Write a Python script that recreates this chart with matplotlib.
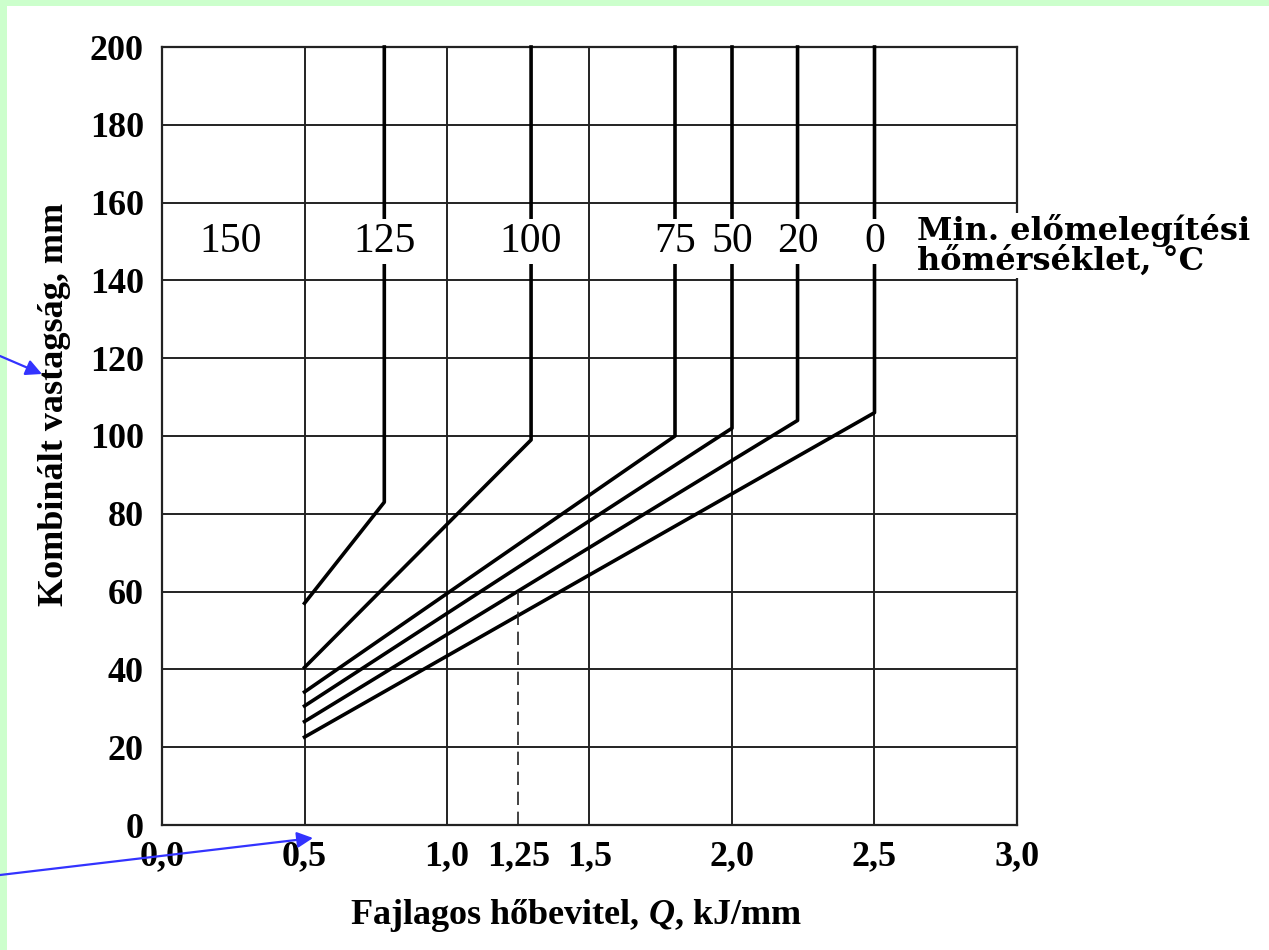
import matplotlib
matplotlib.use('Agg')
import matplotlib.pyplot as plt
from matplotlib.patches import Rectangle, FancyArrowPatch

plt.rcParams['font.family'] = 'Liberation Serif'
plt.rcParams['mathtext.fontset'] = 'custom'
plt.rcParams['mathtext.it'] = 'Liberation Serif:italic:bold'
plt.rcParams['mathtext.rm'] = 'Liberation Serif:bold'

# preheat temperature curves
temps = ['125', '100', '75', '50', '20', '0']
q_start = [0.5, 0.5, 0.5, 0.5, 0.5, 0.5]
t_start = [57, 40.5, 34.2, 30.6, 26.6, 22.6]
q_knee = [0.78, 1.295, 1.80, 2.0, 2.23, 2.5]
t_knee = [83, 99, 100, 102, 104, 106]
t_top = 200

label_texts = ['150', '125', '100', '75', '50', '20', '0']
label_q = [0.24, 0.78, 1.295, 1.80, 2.0, 2.23, 2.5]
label_t = 150

x_major = [0.0, 0.5, 1.0, 1.5, 2.0, 2.5, 3.0]
x_major_lbl = ['0,0', '0,5', '1,0', '1,5', '2,0', '2,5', '3,0']
x_minor = [1.25]
x_minor_lbl = ['1,25']
y_ticks = list(range(0, 201, 20))

dash_q = 1.25
dash_t = 60

W, H = 1269, 950
fig = plt.figure(figsize=(W / 100, H / 100), dpi=100, facecolor='#ccffcc')
fig.add_artist(Rectangle((7 / W, 0), 1, 1 - 6 / H, transform=fig.transFigure,
                         facecolor='white', edgecolor='none', zorder=-10))

ax = fig.add_axes([162 / W, 1 - 825 / H, (1017 - 162) / W, (825 - 47) / H])
ax.set_xlim(0, 3)
ax.set_ylim(0, 200)

ax.set_xticks(x_major, labels=x_major_lbl)
ax.set_xticks(x_minor, labels=x_minor_lbl, minor=True)
ax.set_yticks(y_ticks)
ax.tick_params(which='both', length=0, labelsize=26)
ax.tick_params(axis='x', which='both', pad=11)
ax.tick_params(axis='y', pad=13)
for lbl in ax.get_xticklabels(which='both') + ax.get_yticklabels():
    lbl.set_fontweight('bold')

ax.grid(which='major', color='#222222', lw=1.4)
ax.set_axisbelow(True)
for s in ax.spines.values():
    s.set_color('#222222')
    s.set_linewidth(1.6)

for i in range(len(temps)):
    ax.plot([q_start[i], q_knee[i], q_knee[i]], [t_start[i], t_knee[i], t_top],
            color='black', lw=2.6, clip_on=False, zorder=3)

ax.plot([dash_q, dash_q], [0, dash_t], color='#222222', lw=1.2,
        dashes=(8, 4), zorder=3)

for txt, q in zip(label_texts, label_q):
    ax.text(q, label_t, txt, ha='center', va='center', fontsize=30,
            bbox=dict(facecolor='white', edgecolor='none', pad=2), zorder=4)

ax.text(2.65, 149, 'Min. előmelegítési\nhőmérséklet, °C', ha='left', va='center',
        fontsize=23, fontweight='bold', family='DejaVu Serif', linespacing=0.95,
        bbox=dict(facecolor='white', edgecolor='none', pad=0.5), zorder=4,
        clip_on=False)

ax.set_xlabel('Fajlagos hőbevitel, $Q$, kJ/mm', fontsize=26, fontweight='bold')
ax.set_ylabel('Kombinált vastagság, mm', fontsize=26, fontweight='bold')
ax.xaxis.set_label_coords(0.484, -0.092)
ax.yaxis.set_label_coords(-0.106, 0.54)

# blue pointer arrows
blue = '#3333ff'
for (x0, y0), (x1, y1) in [((0, 356), (42, 374)), ((0, 875), (313, 838))]:
    fig.add_artist(FancyArrowPatch((x0 / W, 1 - y0 / H), (x1 / W, 1 - y1 / H),
                                   transform=fig.transFigure, arrowstyle='-|>',
                                   mutation_scale=24, color=blue, lw=1.6,
                                   shrinkA=0, shrinkB=0, zorder=10))

fig.savefig('out.png', dpi=100, facecolor=fig.get_facecolor())
